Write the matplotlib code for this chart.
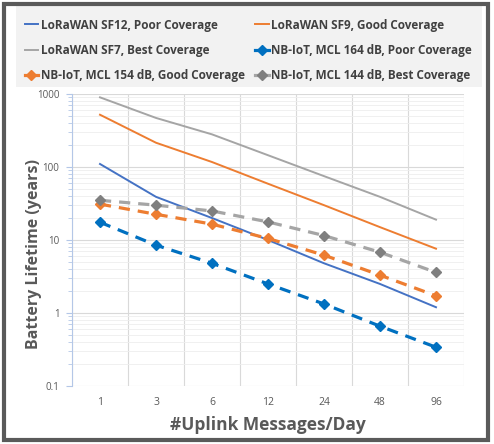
import matplotlib
matplotlib.use('Agg')
import matplotlib.pyplot as plt
from matplotlib.patches import Rectangle
from matplotlib.lines import Line2D
from matplotlib.ticker import LogLocator, FixedLocator, NullFormatter

plt.rcParams['font.family'] = ['Open Sans', 'DejaVu Sans']

# datos
mensajes = ['1', '3', '6', '12', '24', '48', '96']
sf12_pobre = [110, 39, 20, 10, 4.8, 2.5, 1.2]
sf9_buena = [520, 215, 117, 59, 30, 15, 7.6]
sf7_mejor = [900, 470, 280, 145, 75, 39, 19]
nb164_pobre = [17.5, 8.5, 4.8, 2.5, 1.33, 0.66, 0.34]
nb154_buena = [31, 22.5, 16.5, 10.5, 6.2, 3.3, 1.72]
nb144_mejor = [35, 30, 25, 17.7, 11.5, 6.8, 3.6]

etiquetas = ['LoRaWAN SF12, Poor Coverage', 'LoRaWAN SF9, Good Coverage',
             'LoRaWAN SF7, Best Coverage', 'NB-IoT, MCL 164 dB, Poor Coverage',
             'NB-IoT, MCL 154 dB, Good Coverage', 'NB-IoT, MCL 144 dB, Best Coverage']

azul = '#4472C4'
naranja = '#ED7D31'
gris = '#A5A5A5'
azul_nb = '#0070C0'
gris_osc = '#7F7F7F'

fig = plt.figure(figsize=(4.94, 4.44), dpi=100)
ax = fig.add_axes([72/494, 58/444, 392/494, 292/444])

x = list(range(len(mensajes)))
guiones = (0, (3.5, 2.5))
ax.plot(x, sf12_pobre, color=azul, lw=1.4)
ax.plot(x, sf9_buena, color=naranja, lw=1.4)
ax.plot(x, sf7_mejor, color=gris, lw=1.4)
ax.plot(x, nb164_pobre, color=azul_nb, lw=2.3, ls=guiones,
        marker='D', ms=5.5, mfc=azul_nb, mec=azul_nb)
ax.plot(x, nb154_buena, color=naranja, lw=2.3, ls=guiones,
        marker='D', ms=5.5, mfc=naranja, mec=naranja)
ax.plot(x, nb144_mejor, color=gris, lw=2.3, ls=guiones,
        marker='D', ms=5.5, mfc=gris_osc, mec=gris_osc)

ax.set_yscale('log')
ax.set_ylim(0.1, 1000)
ax.set_xlim(-0.5, len(mensajes) - 0.5)
ax.set_xticks(x)
ax.set_xticklabels(mensajes)
ax.set_yticks([0.1, 1, 10, 100, 1000])
ax.set_yticklabels(['0.1', '1', '10', '100', '1000'])
ax.yaxis.set_minor_locator(LogLocator(base=10, subs=range(2, 10)))
ax.yaxis.set_minor_formatter(NullFormatter())
ax.xaxis.set_minor_locator(FixedLocator([i - 0.5 for i in range(len(mensajes) + 1)]))

ax.grid(True, which='major', axis='y', color='#D9D9D9', lw=0.8)
ax.grid(True, which='minor', axis='y', color='#EEEEEE', lw=0.6)
ax.grid(True, which='minor', axis='x', color='#D9D9D9', lw=0.8)
ax.set_axisbelow(True)

for lado in ['top', 'right', 'bottom']:
    ax.spines[lado].set_visible(False)
ax.spines['left'].set_color('#B4C7E7')
ax.tick_params(axis='y', which='major', length=4, color='#B4C7E7', labelsize=7, labelcolor='#595959', pad=5)
ax.tick_params(axis='y', which='minor', length=3, color='#B4C7E7')
ax.tick_params(axis='x', which='both', length=0, labelsize=7.5, labelcolor='#595959', pad=8)

ax.set_xlabel('#Uplink Messages/Day', fontsize=12.5, fontweight='bold', color='#595959', labelpad=6)
ax.set_ylabel('Battery Lifetime (years)', fontsize=11.5, fontweight='bold', color='#595959')
ax.yaxis.set_label_coords(42/494, 190/444, transform=fig.transFigure)

# fondo de la leyenda y marco
fig.patches.append(Rectangle((16/494, 1 - 87/444), 466/494, 82/444, transform=fig.transFigure,
                             facecolor='#F2F2F2', edgecolor='none', zorder=0))
fig.patches.append(Rectangle((4/494, 4/444), 484/494, 436/444, transform=fig.transFigure,
                             facecolor='none', edgecolor='#5A5A5A', lw=3, zorder=5))

# la leyenda se llena por columnas, reordeno para que quede por filas como en Excel
orden = [0, 2, 4, 1, 3, 5]
manijas = [
    Line2D([], [], color=azul, lw=1.4),
    Line2D([], [], color=naranja, lw=1.4),
    Line2D([], [], color=gris, lw=1.4),
    Line2D([], [], color=azul_nb, lw=2.3, marker='D', ms=5),
    Line2D([], [], color=naranja, lw=2.3, marker='D', ms=5),
    Line2D([], [], color=gris, lw=2.3, marker='D', ms=5, mfc=gris_osc, mec=gris_osc),
]
fig.legend([manijas[i] for i in orden], [etiquetas[i] for i in orden], ncol=2, loc='upper left',
           bbox_to_anchor=(14/494, 1 - 8/444), frameon=False,
           prop={'size': 8.5, 'weight': 'bold'}, labelcolor='#404040', handlelength=1.15,
           handletextpad=0.2, columnspacing=0.9, labelspacing=1.05)

fig.savefig('out.png', dpi=100)
